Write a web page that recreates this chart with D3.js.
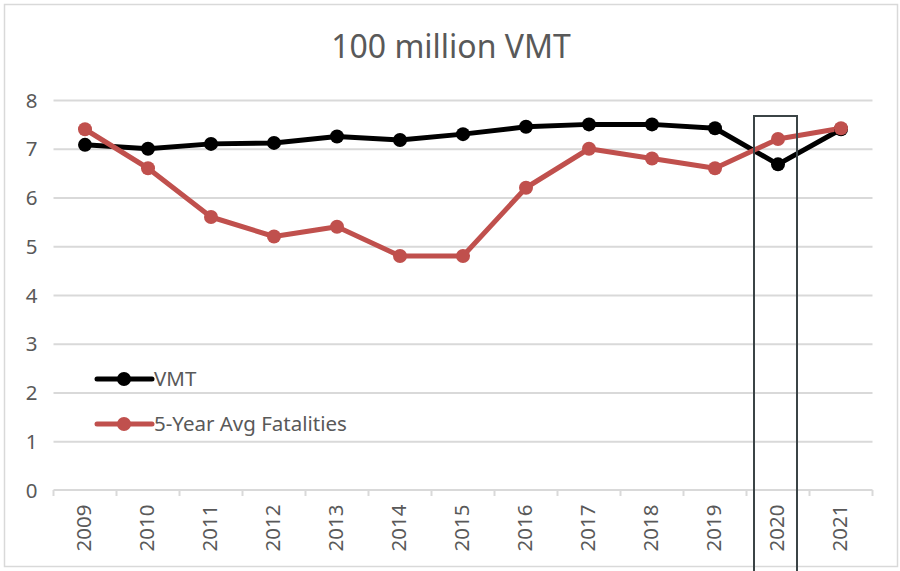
<!DOCTYPE html>
<html>
<head>
<meta charset="utf-8">
<script src="https://cdn.jsdelivr.net/npm/d3@7"></script>
<style>
  html, body { margin: 0; padding: 0; background: #fff; }
  svg { display: block; }
  text { font-family: "Noto Sans", "Open Sans", sans-serif; }
</style>
</head>
<body>
<svg id="chart" width="900" height="571"></svg>
<script>
const years = ["2009","2010","2011","2012","2013","2014","2015","2016","2017","2018","2019","2020","2021"];
const vmt = [7.08, 7.0, 7.1, 7.12, 7.25, 7.18, 7.3, 7.45, 7.5, 7.5, 7.42, 6.68, 7.4];
const fatalities = [7.4, 6.6, 5.6, 5.2, 5.4, 4.8, 4.8, 6.2, 7.0, 6.8, 6.6, 7.2, 7.42];
const yTicks = [0, 1, 2, 3, 4, 5, 6, 7, 8];
const seriesNames = ["VMT", "5-Year Avg Fatalities"];
const seriesColors = ["#000000", "#c0504d"];
const titleText = "100 million VMT";
const highlightYear = "2020";

const svg = d3.select("#chart");
const margin = { left: 53.5, right: 872.5, top: 100, bottom: 490 };

const x = d3.scaleBand().domain(years).range([margin.left, margin.right]).padding(0);
const y = d3.scaleLinear().domain([0, 8]).range([margin.bottom, margin.top]);

// outer border
svg.append("rect").attr("x", 4.5).attr("y", 4.5).attr("width", 893).attr("height", 562)
  .attr("fill", "#fff").attr("stroke", "#d9d9d9").attr("stroke-width", 1.5);

// title
svg.append("text").attr("x", 451).attr("y", 58).attr("text-anchor", "middle")
  .attr("font-size", 32).attr("fill", "#595959").text(titleText);

// gridlines
const yAxis = d3.axisLeft(y).tickValues(yTicks).tickSize(-(margin.right - margin.left)).tickFormat(d3.format("d")).tickPadding(18);
const gy = svg.append("g").attr("transform", `translate(${margin.left},0)`).call(yAxis);
gy.select(".domain").remove();
gy.selectAll(".tick line").attr("stroke", "#d9d9d9").attr("stroke-width", 2);
gy.selectAll(".tick").filter(d => d === 0).select("line").remove();
gy.selectAll(".tick text").attr("font-size", 20.5).attr("fill", "#595959")
  .attr("x", -22).attr("text-anchor", "middle").attr("dy", "0.35em");

// x axis
const gx = svg.append("g").attr("transform", `translate(0,${margin.bottom})`);
gx.append("line").attr("x1", margin.left).attr("x2", margin.right).attr("y1", 0).attr("y2", 0)
  .attr("stroke", "#d9d9d9").attr("stroke-width", 2);
const bounds = years.map(d => x(d)).concat([margin.right]);
gx.selectAll("line.tk").data(bounds).join("line").attr("class", "tk")
  .attr("x1", d => d).attr("x2", d => d).attr("y1", 0).attr("y2", 6)
  .attr("stroke", "#d9d9d9").attr("stroke-width", 2);
gx.selectAll("text.xl").data(years).join("text").attr("class", "xl")
  .attr("transform", d => `translate(${x(d) + x.bandwidth() / 2 + 6},${38}) rotate(-90)`)
  .attr("text-anchor", "middle").attr("font-size", 20.5).attr("fill", "#595959").text(d => d);

// lines
const line = d3.line().x((d, i) => x(years[i]) + x.bandwidth() / 2).y(d => y(d));
const series = [vmt, fatalities];
series.forEach((s, k) => {
  svg.append("path").datum(s).attr("d", line).attr("fill", "none")
    .attr("stroke", seriesColors[k]).attr("stroke-width", 5).attr("stroke-linejoin", "round");
});
series.forEach((s, k) => {
  svg.append("g").selectAll("circle").data(s).join("circle")
    .attr("cx", (d, i) => x(years[i]) + x.bandwidth() / 2).attr("cy", d => y(d))
    .attr("r", 7).attr("fill", seriesColors[k]);
});

// highlight box
svg.append("rect").attr("x", x(highlightYear) + 7.5).attr("y", 116)
  .attr("width", 43).attr("height", 460)
  .attr("fill", "none").attr("stroke", "#3b4446").attr("stroke-width", 2);

// legend
const legY = [379, 424];
seriesNames.forEach((n, k) => {
  svg.append("line").attr("x1", 97).attr("x2", 152).attr("y1", legY[k]).attr("y2", legY[k])
    .attr("stroke", seriesColors[k]).attr("stroke-width", 5).attr("stroke-linecap", "round");
  svg.append("circle").attr("cx", 124).attr("cy", legY[k]).attr("r", 7).attr("fill", seriesColors[k]);
  svg.append("text").attr("x", 154).attr("y", legY[k]).attr("dy", "0.35em")
    .attr("font-size", 20.5).attr("fill", "#595959").text(n);
});
</script>
</body>
</html>
